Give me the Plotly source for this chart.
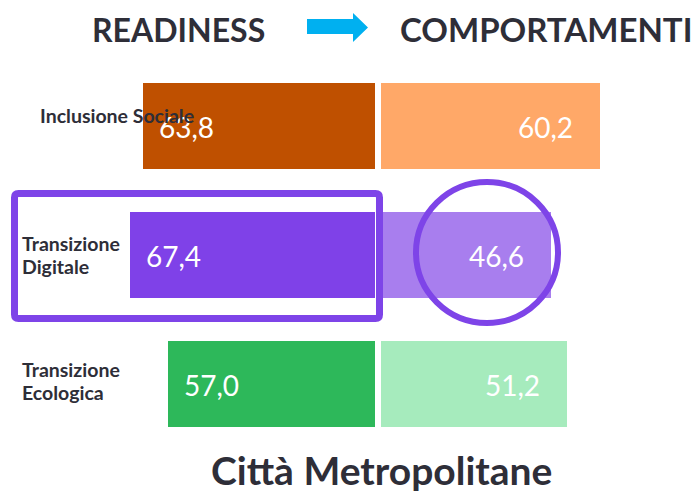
import plotly.graph_objects as go

# ---- data ----
categories = ["Inclusione Sociale", "Transizione<br>Digitale", "Transizione<br>Ecologica"]
readiness = [63.8, 67.4, 57.0]
comportamenti = [60.2, 46.6, 51.2]
value_labels_left = ["63,8", "67,4", "57,0"]
value_labels_right = ["60,2", "46,6", "51,2"]
header_left = "READINESS"
header_right = "COMPORTAMENTI"
title_text = "Città Metropolitane"

colors_left = ["#BF5000", "#7F41E8", "#2DB85A"]
colors_right = ["#FFA868", "#A87EEE", "#A6EBBD"]

W, H = 693, 495
DARK = "#2E2E38"
FONT = "Lato"
PX_PER_UNIT = 3.64
rows = list(range(len(categories)))


def px(x):
    return x / W


def py(y):
    return 1 - y / H


fig = go.Figure()
fig.add_trace(go.Bar(orientation="h", x=readiness, y=rows, xaxis="x", yaxis="y",
                     marker=dict(color=colors_left, line=dict(width=0)), width=0.667,
                     hoverinfo="skip"))
fig.add_trace(go.Bar(orientation="h", x=comportamenti, y=rows, xaxis="x2", yaxis="y",
                     marker=dict(color=colors_right, line=dict(width=0)), width=0.667,
                     hoverinfo="skip"))

left_end, right_start = 375, 381
row_px = 129.0
y_top = -126 / row_px
y_bot = 2 + (H - 384) / row_px

fig.update_layout(
    width=W, height=H, margin=dict(l=0, r=0, t=0, b=0),
    paper_bgcolor="white", plot_bgcolor="white", showlegend=False,
    bargap=0,
    xaxis=dict(domain=[0, px(left_end)], range=[left_end / PX_PER_UNIT, 0],
               visible=False, fixedrange=True, anchor="y"),
    xaxis2=dict(domain=[px(right_start), 1], range=[0, (W - right_start) / PX_PER_UNIT],
                visible=False, fixedrange=True, anchor="y"),
    yaxis=dict(range=[y_bot, y_top], visible=False, fixedrange=True),
)

ann = []
# value labels
for i in rows:
    ann.append(dict(x=readiness[i], y=i, xref="x", yref="y", text=value_labels_left[i],
                    showarrow=False, xanchor="left", yanchor="middle", xshift=14, yshift=-1,
                    font=dict(family=FONT, size=28, color="white")))
    ann.append(dict(x=comportamenti[i], y=i, xref="x2", yref="y", text=value_labels_right[i],
                    showarrow=False, xanchor="right", yanchor="middle", xshift=-25, yshift=-1,
                    font=dict(family=FONT, size=28, color="white")))

# category labels
label_x = [38, 20, 20]
label_shift = [11, 0, 3]
for i, lab in enumerate(categories):
    lines = lab.split("<br>")
    n = len(lines)
    for j, line in enumerate(lines):
        off = (j - (n - 1) / 2) * 23
        ann.append(dict(x=px(label_x[i]), y=i, xref="paper", yref="y", text=line,
                        showarrow=False, xanchor="left", yanchor="middle",
                        yshift=label_shift[i] - off,
                        font=dict(family=FONT, size=19.5, color=DARK, weight="bold")))

# headers
ann.append(dict(x=px(178), y=py(29), xref="paper", yref="paper", text=header_left,
                showarrow=False, xanchor="center", yanchor="middle",
                font=dict(family=FONT, size=32, color=DARK, weight="bold")))
ann.append(dict(x=px(398), y=py(29), xref="paper", yref="paper", text=header_right,
                showarrow=False, xanchor="left", yanchor="middle",
                font=dict(family=FONT, size=33, color=DARK, weight="bold")))
# bottom title
ann.append(dict(x=px(381), y=py(470), xref="paper", yref="paper", text=title_text,
                showarrow=False, xanchor="center", yanchor="middle",
                font=dict(family=FONT, size=39, color=DARK, weight="bold")))
fig.update_layout(annotations=ann)

# arrow shape
arrow_pts = [(307, 19), (353, 19), (353, 13), (368, 27.5), (353, 42), (353, 34), (307, 34)]
path = "M " + " L ".join(f"{px(x):.5f},{py(y):.5f}" for x, y in arrow_pts) + " Z"
shapes = [dict(type="path", path=path, xref="paper", yref="paper",
               fillcolor="#00B0F0", line=dict(width=0), layer="above")]

# rounded highlight box
x0, x1, y0, y1, r = 14.5, 379.5, 193.5, 318.5, 4


def P(x, y):
    return f"{px(x):.5f},{py(y):.5f}"


box = (f"M {P(x0 + r, y0)} L {P(x1 - r, y0)} Q {P(x1, y0)} {P(x1, y0 + r)} "
       f"L {P(x1, y1 - r)} Q {P(x1, y1)} {P(x1 - r, y1)} L {P(x0 + r, y1)} "
       f"Q {P(x0, y1)} {P(x0, y1 - r)} L {P(x0, y0 + r)} Q {P(x0, y0)} {P(x0 + r, y0)} Z")
shapes.append(dict(type="path", path=box, xref="paper", yref="paper",
                   line=dict(color="#7E44E8", width=7), fillcolor="rgba(0,0,0,0)", layer="above"))
# ellipse
shapes.append(dict(type="circle", xref="paper", yref="paper",
                   x0=px(416), x1=px(558), y0=py(323), y1=py(182),
                   line=dict(color="#7E44E8", width=6), fillcolor="rgba(0,0,0,0)", layer="above"))
fig.update_layout(shapes=shapes)

fig.write_html("out.html", config=dict(displayModeBar=False),
               post_script="document.body.style.margin='0';document.body.style.overflow='hidden';")
